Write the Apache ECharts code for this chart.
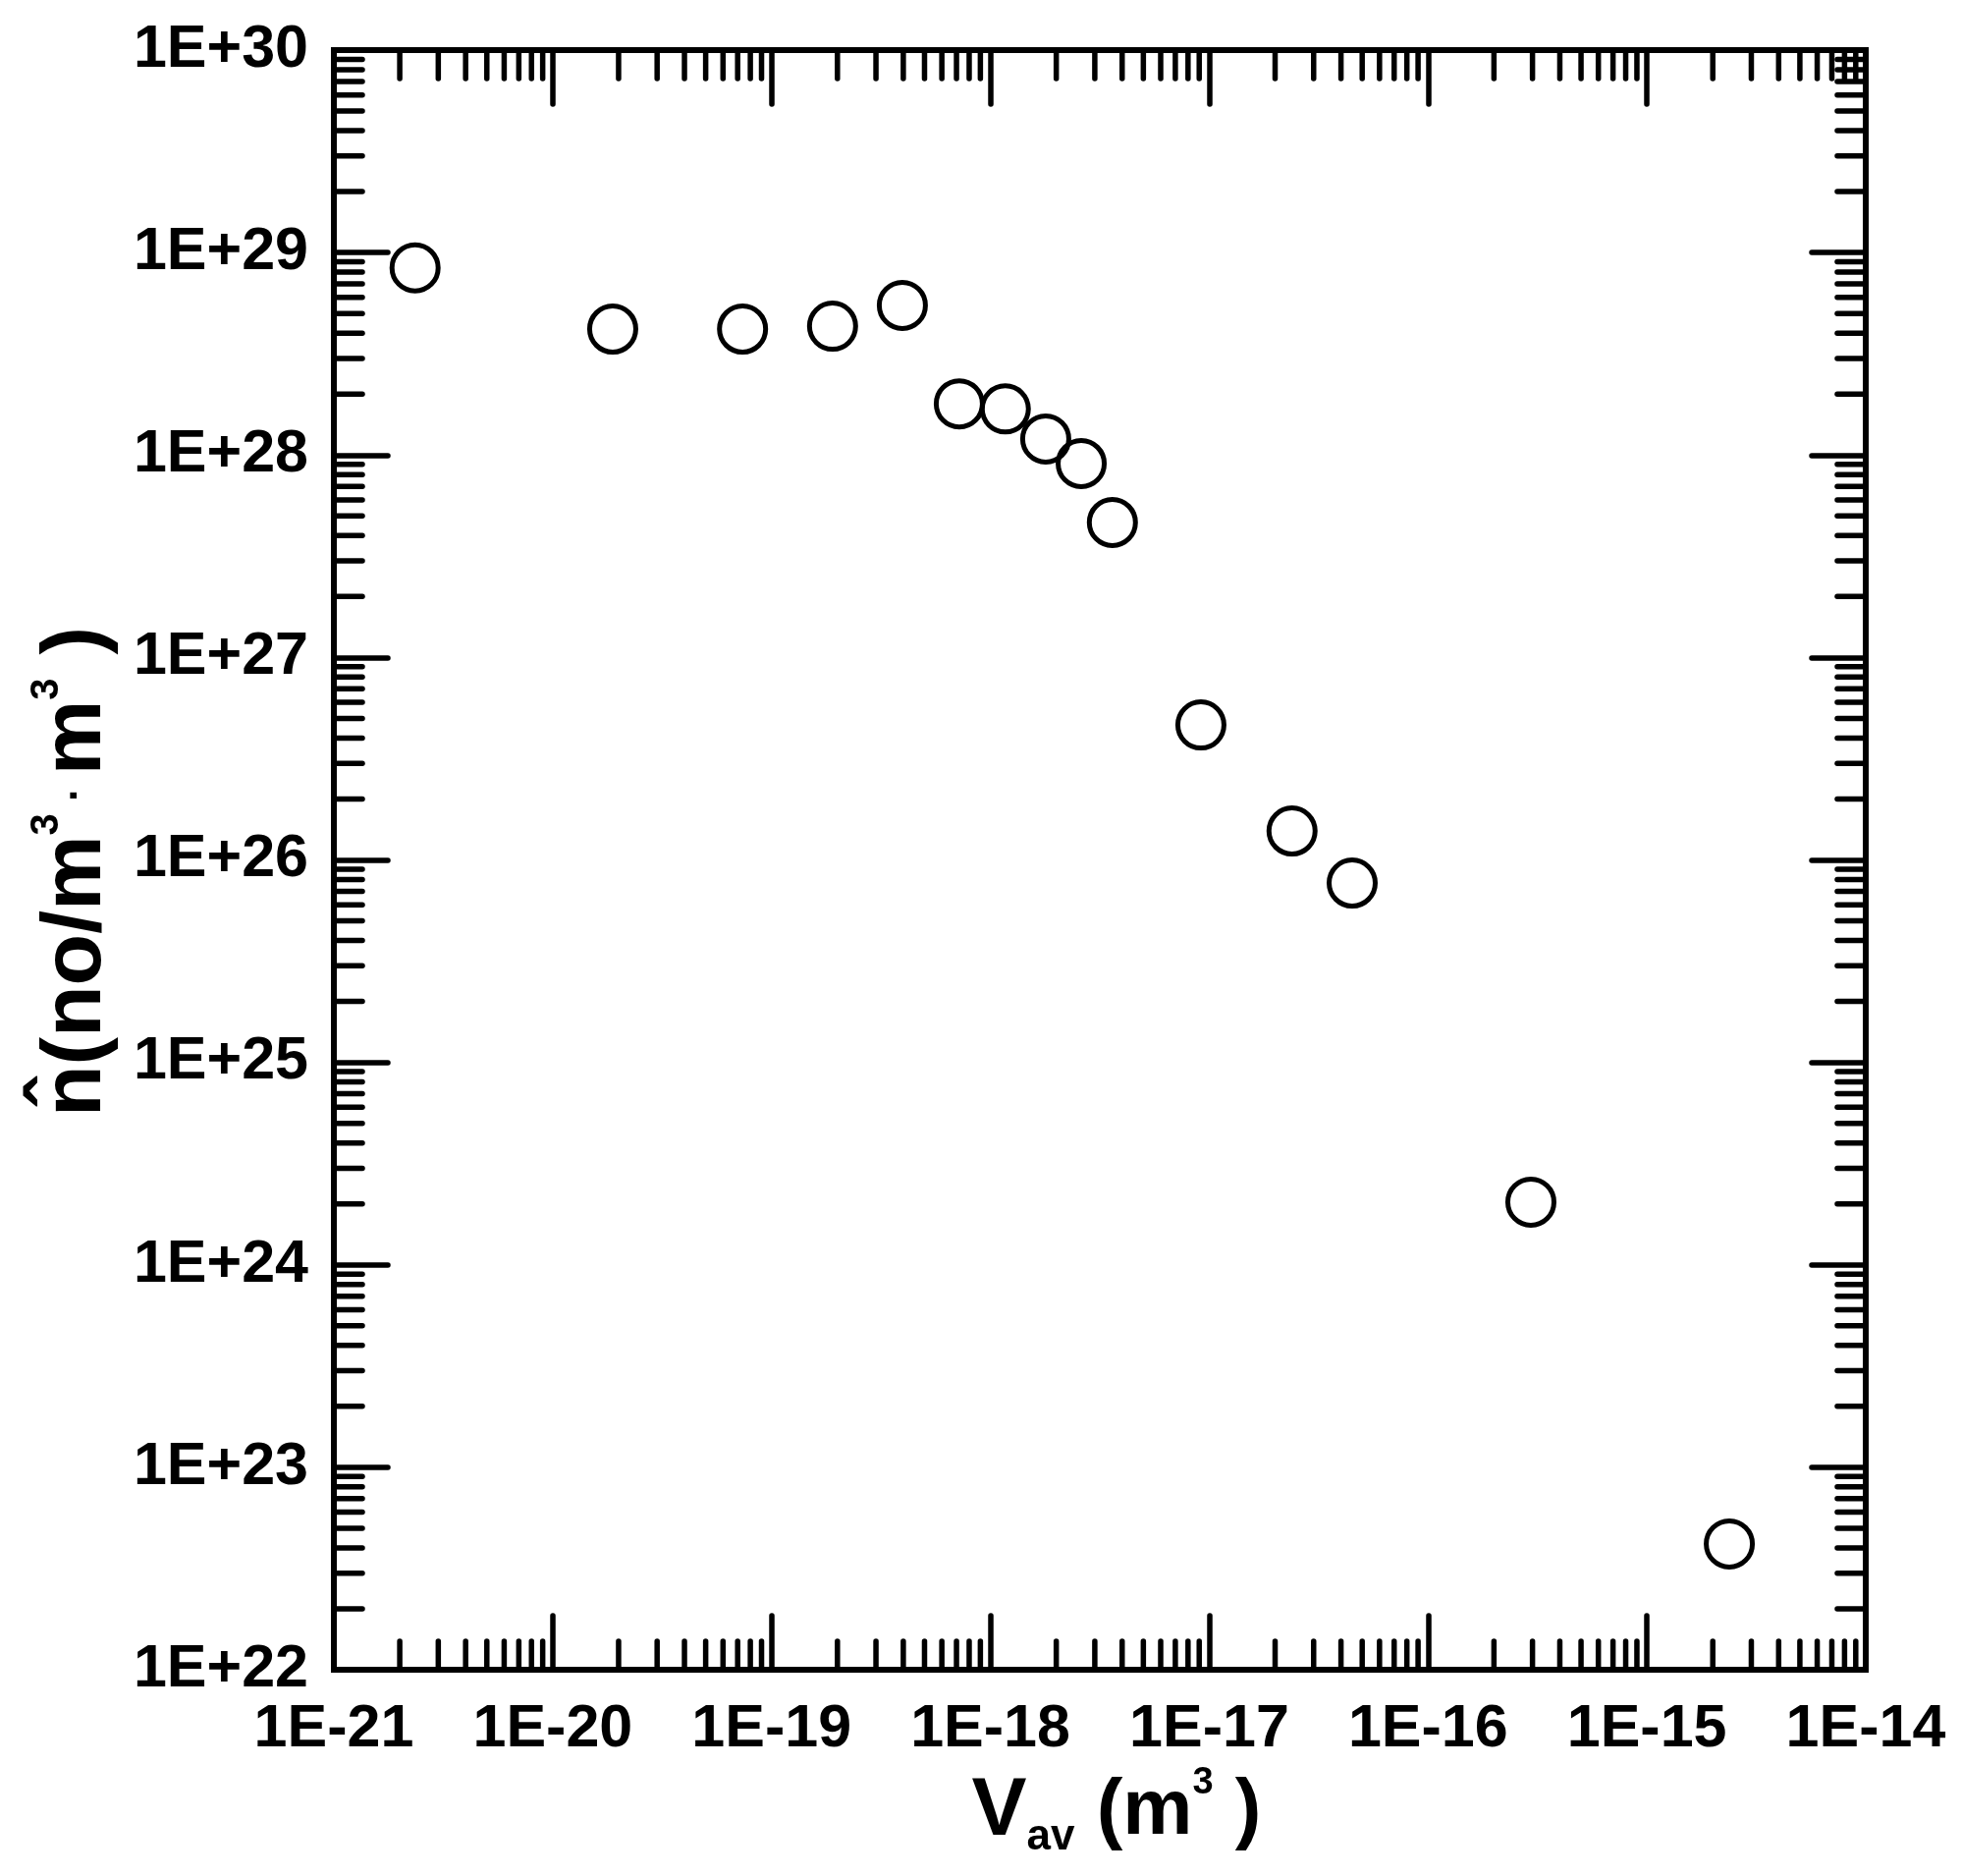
<!DOCTYPE html>
<html>
<head>
<meta charset="utf-8">
<title>n-hat vs Vav</title>
<script src="https://cdn.jsdelivr.net/npm/echarts@6/dist/echarts.min.js"></script>
<style>
  html, body { margin: 0; padding: 0; background: #fff; }
  #chart { width: 1997px; height: 1910px; }
</style>
</head>
<body>
<div id="chart"></div>
<script>
// average volume (m^3)
var vav = [2.35e-21, 1.88e-20, 7.37e-20, 1.90e-19, 3.96e-19, 7.21e-19, 1.17e-18, 1.79e-18,
  2.60e-18, 3.61e-18, 9.16e-18, 2.39e-17, 4.50e-17, 2.95e-16, 2.38e-15];
// n-hat (no/m^3 . m^3)
var nhat = [8.4e28, 4.19e28, 4.19e28, 4.33e28, 5.48e28, 1.79e28, 1.69e28, 1.20e28,
  9.07e27, 4.64e27, 4.64e26, 1.39e26, 7.69e25, 2.04e24, 4.18e22];

// decades shown on the axes (exponents of 10)
var xDecades = [-21, -20, -19, -18, -17, -16, -15, -14];
var yDecades = [22, 23, 24, 25, 26, 27, 28, 29, 30];
var minorSteps = [2, 3, 4, 5, 6, 7, 8, 9];

// echarts' log scale rounds 1e-21 to 0, so the axes run on log10 of the values
var lg = Math.log10;
var xMin = xDecades[0], xMax = xDecades[xDecades.length - 1];
var yMin = yDecades[0], yMax = yDecades[yDecades.length - 1];

var font = '"Liberation Sans", Arial, sans-serif';
var majorLen = 55, minorLen = 29, lw = 5.5;

var xMinor = [], yMinor = [];
xDecades.slice(0, -1).forEach(function (e) {
  minorSteps.forEach(function (m) { xMinor.push([e + lg(m), yMin]); });
});
yDecades.slice(0, -1).forEach(function (e) {
  minorSteps.forEach(function (m) { yMinor.push([xMin, e + lg(m)]); });
});

var points = vav.map(function (v, i) { return [lg(v), lg(nhat[i])]; });

function expLabel(v) {
  var p = Math.round(v);
  return '1E' + (p >= 0 ? '+' : '') + p;
}

function tickLine(x1, y1, x2, y2) {
  return {
    type: 'line',
    shape: { x1: x1, y1: y1, x2: x2, y2: y2 },
    style: { stroke: '#000', lineWidth: lw, lineCap: 'round' }
  };
}

function baseAxis() {
  return {
    type: 'value',
    interval: 1,
    axisLine: { show: true, onZero: false, lineStyle: { color: '#000', width: 6, cap: 'square' } },
    axisTick: { show: true, inside: true, length: majorLen, lineStyle: { color: '#000', width: lw, cap: 'round' } },
    splitLine: { show: false },
    minorTick: { show: false }
  };
}

function labelStyle(margin) {
  return {
    show: true, margin: margin, hideOverlap: false, showMinLabel: true, showMaxLabel: true,
    fontFamily: font, fontWeight: 'bold', fontSize: 61, color: '#000',
    formatter: expLabel
  };
}

var chart = echarts.init(document.getElementById('chart'));

var option = {
  backgroundColor: '#fff',
  animation: false,
  grid: { left: 340, right: 97, top: 51, bottom: 210, containLabel: false },
  xAxis: [
    Object.assign(baseAxis(), {
      position: 'bottom', min: xMin, max: xMax,
      axisLabel: labelStyle(31),
      name: '{v|V}{s|av}{p| (m}{u|3}{p| )}',
      nameLocation: 'middle',
      nameGap: 84,
      nameTextStyle: {
        padding: [0, 0, 0, 34],
        rich: {
          v: { fontFamily: font, fontWeight: 'bold', fontSize: 84, lineHeight: 96, color: '#000' },
          p: { fontFamily: font, fontWeight: 'bold', fontSize: 80, lineHeight: 96, color: '#000' },
          s: { fontFamily: font, fontWeight: 'bold', fontSize: 44, lineHeight: 62, verticalAlign: 'bottom', color: '#000' },
          u: { fontFamily: font, fontWeight: 'bold', fontSize: 38, lineHeight: 70, verticalAlign: 'top', color: '#000' }
        }
      }
    }),
    Object.assign(baseAxis(), {
      position: 'top', min: xMin, max: xMax,
      axisLabel: { show: false }
    })
  ],
  yAxis: [
    Object.assign(baseAxis(), {
      position: 'left', min: yMin, max: yMax,
      axisLabel: labelStyle(26),
      name: '{n|n\u0302(no/m}{u|3}{d| \u00b7 }{n|m}{u|3}{n| )}',
      nameLocation: 'middle',
      nameRotate: 90,
      nameGap: 212,
      nameTextStyle: {
        padding: [0, 24, 0, 0],
        rich: {
          n: { fontFamily: font, fontWeight: 'bold', fontSize: 86, lineHeight: 100, color: '#000' },
          d: { fontFamily: font, fontWeight: 'bold', fontSize: 44, lineHeight: 100, color: '#000' },
          u: { fontFamily: font, fontWeight: 'bold', fontSize: 40, lineHeight: 72, verticalAlign: 'top', color: '#000' }
        }
      }
    }),
    Object.assign(baseAxis(), {
      position: 'right', min: yMin, max: yMax,
      axisLabel: { show: false }
    })
  ],
  series: [
    {
      type: 'scatter',
      data: points,
      symbol: 'circle',
      symbolSize: 47,
      itemStyle: { color: 'rgba(255,255,255,0)', borderColor: '#000', borderWidth: 5, opacity: 1 },
      z: 5
    },
    {
      // minor ticks on bottom and top x axes
      type: 'custom',
      silent: true,
      data: xMinor,
      renderItem: function (params, api) {
        var b = api.coord([api.value(0), yMin]);
        var t = api.coord([api.value(0), yMax]);
        return {
          type: 'group',
          children: [
            tickLine(b[0], b[1], b[0], b[1] - minorLen),
            tickLine(t[0], t[1], t[0], t[1] + minorLen)
          ]
        };
      },
      z: 3
    },
    {
      // minor ticks on left and right y axes
      type: 'custom',
      silent: true,
      data: yMinor,
      renderItem: function (params, api) {
        var l = api.coord([xMin, api.value(1)]);
        var r = api.coord([xMax, api.value(1)]);
        return {
          type: 'group',
          children: [
            tickLine(l[0], l[1], l[0] + minorLen, l[1]),
            tickLine(r[0], r[1], r[0] - minorLen, r[1])
          ]
        };
      },
      z: 3
    }
  ]
};

chart.setOption(option);
</script>
</body>
</html>
